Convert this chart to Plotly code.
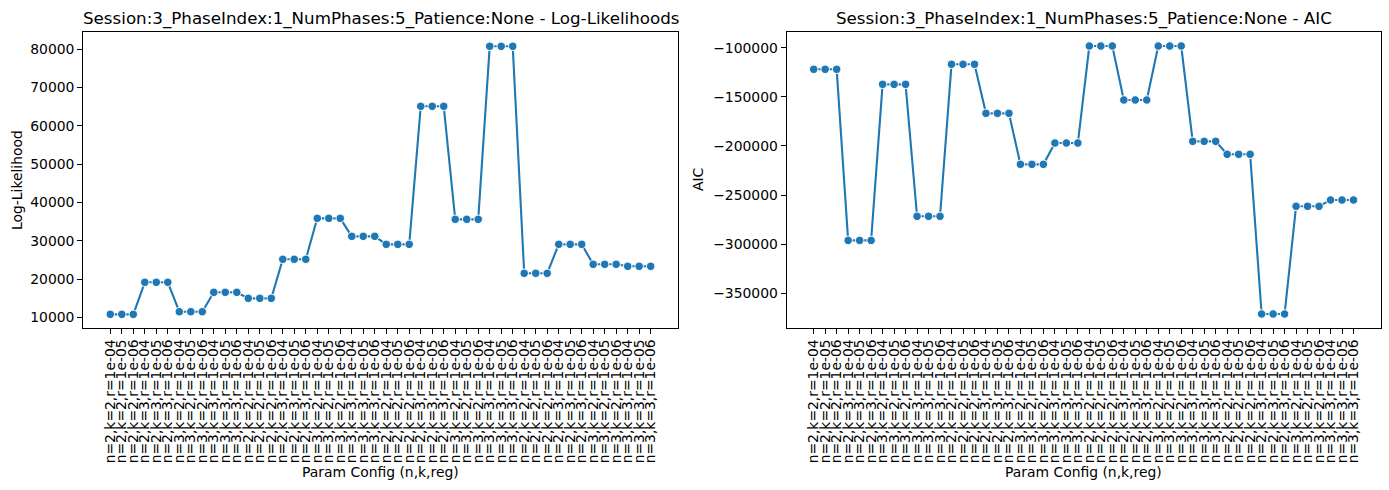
import plotly.graph_objects as go

# ---- data ----
n_vals = ["2", "2", "2", "2", "2", "2", "3", "3", "3", "3", "3", "3"]
k_vals = ["2", "2", "2", "3", "3", "3", "2", "2", "2", "3", "3", "3"]
r_vals = ["1e-04", "1e-05", "1e-06"] * 4
n_repeats = 4
config_labels = [f"n={n},k={k},r={r}" for n, k, r in zip(n_vals, k_vals, r_vals)] * n_repeats

log_likelihood = [
    10780, 10780, 10780, 19140, 19140, 19140, 11460, 11460, 11460,
    16530, 16530, 16530, 14960, 14960, 14960, 25150, 25150, 25150,
    35850, 35850, 35850, 31150, 31150, 31150, 29060, 29060, 29060,
    65100, 65100, 65100, 35590, 35590, 35590, 80770, 80770, 80770,
    21490, 21490, 21490, 29060, 29060, 29060, 23840, 23840, 23840,
    23320, 23320, 23320,
]
aic = [
    -122000, -122000, -122000, -296100, -296100, -296100, -137300, -137300, -137300,
    -271600, -271600, -271600, -116900, -116900, -116900, -166800, -166800, -166800,
    -218700, -218700, -218700, -197000, -197000, -197000, -98300, -98300, -98300,
    -153200, -153200, -153200, -98300, -98300, -98300, -195300, -195300, -195300,
    -208500, -208500, -208500, -371000, -371000, -371000, -261400, -261400, -261400,
    -255000, -255000, -255000,
]
ll_ticks = [10000, 20000, 30000, 40000, 50000, 60000, 70000, 80000]
aic_ticks = [-350000, -300000, -250000, -200000, -150000, -100000]

title_left = "Session:3_PhaseIndex:1_NumPhases:5_Patience:None - Log-Likelihoods"
title_right = "Session:3_PhaseIndex:1_NumPhases:5_Patience:None - AIC"

# ---- figure ----
W, H = 1389, 490
BLUE = "#1f77b4"
FONT = "DejaVu Sans"
x_idx = list(range(len(config_labels)))

fig = go.Figure()
for y, xa, ya in [(log_likelihood, "x", "y"), (aic, "x2", "y2")]:
    fig.add_trace(go.Scatter(
        x=x_idx, y=y, xaxis=xa, yaxis=ya, mode="lines+markers",
        line=dict(color=BLUE, width=2.1),
        marker=dict(color=BLUE, size=8.5, line=dict(color="white", width=1)),
        showlegend=False, hoverinfo="skip",
    ))

def px_x(v):
    return v / W

def px_y(v):
    return 1 - v / H

xl = [px_x(83.3), px_x(677.7)]
xr = [px_x(786.7), px_x(1380.5)]
yd = [px_y(327.7), px_y(32.3)]

xcommon = dict(
    tickmode="array", tickvals=x_idx, ticktext=config_labels, tickangle=-90,
    range=[-2.35, len(x_idx) - 1 + 2.35], showgrid=False, zeroline=False,
    showline=True, mirror=True, linecolor="black", linewidth=1.1,
    ticks="outside", ticklen=5, tickwidth=1.1, tickcolor="black",
    tickfont=dict(family=FONT, size=13.9, color="black"),
)
ycommon = dict(
    showgrid=False, zeroline=False, showline=True, mirror=True,
    linecolor="black", linewidth=1.1, ticks="outside", ticklen=5,
    tickwidth=1.1, tickcolor="black",
    tickfont=dict(family=FONT, size=13.9, color="black"),
    tickmode="array",
)

fig.update_layout(
    width=W, height=H, margin=dict(l=0, r=0, t=0, b=0),
    paper_bgcolor="white", plot_bgcolor="white",
    font=dict(family=FONT, color="black"),
    xaxis=dict(domain=xl, anchor="y", **xcommon),
    xaxis2=dict(domain=xr, anchor="y2", **xcommon),
    yaxis=dict(domain=yd, anchor="x", range=[7290, 84430],
               tickvals=ll_ticks, ticktext=[str(v) for v in ll_ticks], **ycommon),
    yaxis2=dict(domain=yd, anchor="x2", range=[-384960, -84330],
                tickvals=aic_ticks,
                ticktext=[str(v).replace("-", "\u2212") for v in aic_ticks], **ycommon),
)

annots = [
    dict(text=title_left, x=(xl[0] + xl[1]) / 2, y=px_y(18), xanchor="center", yanchor="middle", font=dict(size=16.7)),
    dict(text=title_right, x=(xr[0] + xr[1]) / 2, y=px_y(18), xanchor="center", yanchor="middle", font=dict(size=16.7)),
    dict(text="Param Config (n,k,reg)", x=(xl[0] + xl[1]) / 2, y=px_y(472), xanchor="center", yanchor="middle", font=dict(size=13.9)),
    dict(text="Param Config (n,k,reg)", x=(xr[0] + xr[1]) / 2, y=px_y(472), xanchor="center", yanchor="middle", font=dict(size=13.9)),
    dict(text="Log-Likelihood", x=px_x(17), y=px_y(180), xanchor="center", yanchor="middle", textangle=-90, font=dict(size=13.9)),
    dict(text="AIC", x=px_x(698), y=px_y(180), xanchor="center", yanchor="middle", textangle=-90, font=dict(size=13.9)),
]
for a in annots:
    a.update(xref="paper", yref="paper", showarrow=False)
    a["font"].update(family=FONT, color="black")
fig.update_layout(annotations=annots)

fig.write_html(
    "out.html",
    config={"displayModeBar": False},
    post_script="document.body.style.margin='0';document.body.style.overflow='hidden';",
)
